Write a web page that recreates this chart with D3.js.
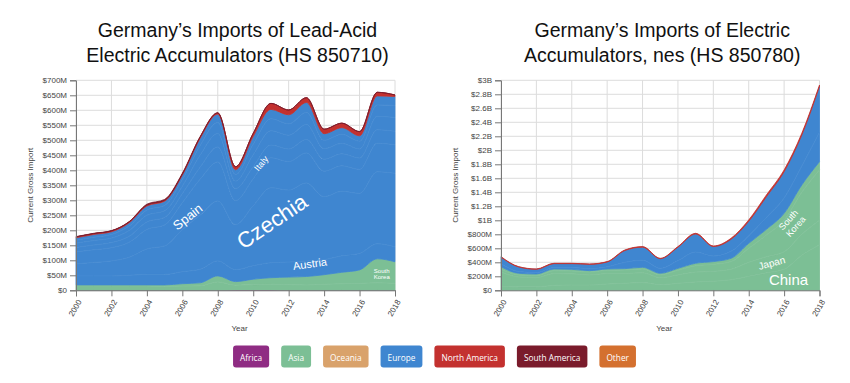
<!DOCTYPE html>
<html><head><meta charset="utf-8">
<script src="https://cdn.jsdelivr.net/npm/d3@7"></script>
<style>body{margin:0;background:#fff}svg{display:block}</style>
</head><body>
<svg id="c" width="850" height="383"></svg>
<script>
// ---------- DATA (values in $M) ----------
const years = [2000,2001,2002,2003,2004,2005,2006,2007,2008,2009,2010,2011,2012,2013,2014,2015,2016,2017,2018];

// Lead-acid accumulators (HS 850710)
const leadAfrica       = [0,0,0,0,0,0,0,0,0,1,1,1,0,0,0,0,0,0,0];
const leadOtherAsia    = [14,14,14,14,14,13,14,15,28,16,18,19,19,18,20,22,23,25,23];
const leadSouthKorea   = [4,4,4,4,4,5,8,10,20,12,18,22,25,28,32,38,45,80,72];
const leadAustria      = [30,30,30,32,35,35,40,45,50,40,45,50,50,52,50,55,55,50,50];
const leadCzechia      = [40,45,50,60,85,95,140,180,200,150,200,250,240,260,210,215,200,240,245];
const leadSpain        = [40,42,44,50,65,70,90,120,130,80,90,100,95,100,85,85,80,95,95];
const leadItaly        = [15,16,17,20,25,25,30,40,50,40,40,42,42,45,40,40,38,45,45];
const leadFrance       = [14,15,15,19,22,22,25,40,45,25,40,48,46,50,35,35,30,45,46];
const leadPoland       = [10,11,12,15,18,18,22,32,36,22,35,40,38,40,28,30,26,38,40];
const leadOtherEurope  = [8,9,9,11,13,14,15,24,28,16,26,31,30,33,22,22,18,30,30];
const leadNorthAmerica = [3,3,3,3,3,3,3,4,4,10,10,20,16,16,15,15,14,12,5];
const leadSouthAmerica = [1,1,1,1,3,3,3,2,1,0,0,0,0,0,0,0,0,0,0];

// Electric accumulators, nes (HS 850780)
const elecChina        = [60,50,50,70,75,75,90,100,110,80,100,120,130,150,200,250,300,500,650];
const elecJapan        = [200,140,130,170,160,145,150,140,140,100,120,140,140,150,200,230,250,300,350];
const elecSouthKorea   = [40,30,30,40,40,40,45,50,55,40,65,90,100,110,200,310,450,600,720];
const elecOtherAsia    = [38,23,23,25,25,21,20,20,24,23,29,36,40,47,71,81,100,105,118];
const elecPoland       = [40,25,20,22,24,27,30,90,100,70,110,160,80,100,110,170,220,270,420];
const elecOtherEurope  = [95,65,47,54,57,63,69,168,187,138,192,258,135,171,204,296,374,443,655];
const elecNorthAmerica = [8,5,5,5,5,5,6,8,8,6,8,10,8,15,20,25,25,25,20];

// Tick values
const yearTicks = [2000,2002,2004,2006,2008,2010,2012,2014,2016,2018];
const leadYTicks = [0,50,100,150,200,250,300,350,400,450,500,550,600,650,700];
const elecYTicks = [0,200,400,600,800,1000,1200,1400,1600,1800,2000,2200,2400,2600,2800,3000];

// Legend
const continents = ["Africa","Asia","Oceania","Europe","North America","South America","Other"];
const continentColors = ["#8f2c83","#7cbf95","#d9a26b","#3f86d0","#c3312f","#7a1b2b","#d4702f"];

// ---------- CHART ----------
const color = d3.scaleOrdinal(continents, continentColors);
const svg = d3.select("#c");
const FONT = "'Liberation Sans', Arial, sans-serif";

function drawChart(cfg) {
  const {series, x, y, yTicks, fmt, title, labels} = cfg;
  const g = svg.append("g");
  const [x0, x1] = x.range();
  const [y0, y1] = y.range();
  const cx = (x0 + x1) / 2 + 2;

  // title
  const t = g.append("text").attr("text-anchor","middle").attr("font-family",FONT)
    .attr("font-size",19.5).attr("fill","#111");
  t.append("tspan").attr("x",cx).attr("y",37).text(title[0]);
  t.append("tspan").attr("x",cx).attr("y",62).text(title[1]);

  // grid
  g.append("g").selectAll("line").data(yTicks).join("line")
    .attr("x1",x0).attr("x2",x1).attr("y1",d=>y(d)).attr("y2",d=>y(d))
    .attr("stroke","#dcdcdc").attr("stroke-width",1);
  g.append("g").selectAll("line").data(yearTicks).join("line")
    .attr("y1",y0).attr("y2",y1).attr("x1",d=>x(d)).attr("x2",d=>x(d))
    .attr("stroke","#dcdcdc").attr("stroke-width",1);

  // stacked areas
  const rows = years.map((yr,i) => {
    const r = {year: yr};
    series.forEach(s => r[s.name] = s.values[i]);
    return r;
  });
  const stack = d3.stack().keys(series.map(s=>s.name))(rows);
  const area = d3.area().x(d=>x(d.data.year)).y0(d=>y(d[0])).y1(d=>y(d[1]))
    .curve(d3.curveMonotoneX);
  const topLine = d3.line().x(d=>x(d.data.year)).y(d=>y(d[1])).curve(d3.curveMonotoneX);
  const layers = g.append("g");
  // solid under-layer of the full continent block to close anti-alias seams
  layers.selectAll("path.a").data(stack).join("path").attr("class","a")
    .attr("d",area)
    .attr("fill",(d,i)=>color(series[i].continent))
    .attr("stroke",(d,i)=>color(series[i].continent))
    .attr("stroke-width",0.8);
  // faint separators between countries of the same continent
  layers.selectAll("path.s").data(stack.filter((d,i)=>i<stack.length-1 &&
      series[i].continent===series[i+1].continent)).join("path").attr("class","s")
    .attr("d",topLine).attr("fill","none")
    .attr("stroke","#ffffff").attr("stroke-opacity",0.06).attr("stroke-width",0.8);

  // labels
  labels.forEach(l => {
    const tx = g.append("text").attr("font-family",FONT).attr("fill","#fff")
      .attr("font-size",l.size).attr("text-anchor","middle")
      .attr("transform",`translate(${x(l.year)},${y(l.value)}) rotate(${l.angle})`);
    l.lines.forEach((line,k) => {
      tx.append("tspan").attr("x",0)
        .attr("dy", k===0 ? `${0.35 - (l.lines.length-1)*0.55}em` : "1.1em").text(line);
    });
  });

  // axes
  const ya = g.append("g").attr("transform",`translate(${x0},0)`)
    .call(d3.axisLeft(y).tickValues(yTicks).tickFormat(fmt).tickSize(6).tickPadding(3));
  const xa = g.append("g").attr("transform",`translate(0,${y0})`)
    .call(d3.axisBottom(x).tickValues(yearTicks).tickFormat(d3.format("d")).tickSize(6));
  [ya, xa].forEach(a => {
    a.select(".domain").attr("stroke","#777");
    a.selectAll(".tick line").attr("stroke","#777");
    a.selectAll("text").attr("font-family",FONT).attr("font-size",8).attr("fill","#444");
  });
  xa.selectAll(".tick text")
    .attr("text-anchor","end").attr("dy","0.35em").attr("y",0)
    .attr("transform","translate(3,10) rotate(-60)");

  // axis titles
  g.append("text").attr("font-family",FONT).attr("font-size",8).attr("fill","#444")
    .attr("text-anchor","middle").attr("x",cx+2).attr("y",331).text("Year");
  g.append("text").attr("font-family",FONT).attr("font-size",8).attr("fill","#444")
    .attr("text-anchor","middle")
    .attr("transform",`translate(${x0-43},${(y0+y1)/2}) rotate(-90)`)
    .text("Current Gross Import");
}

const leadSeries = [
  {name:"Africa", continent:"Africa", values:leadAfrica},
  {name:"Other Asia", continent:"Asia", values:leadOtherAsia},
  {name:"South Korea", continent:"Asia", values:leadSouthKorea},
  {name:"Austria", continent:"Europe", values:leadAustria},
  {name:"Czechia", continent:"Europe", values:leadCzechia},
  {name:"Spain", continent:"Europe", values:leadSpain},
  {name:"Italy", continent:"Europe", values:leadItaly},
  {name:"France", continent:"Europe", values:leadFrance},
  {name:"Poland", continent:"Europe", values:leadPoland},
  {name:"Other Europe", continent:"Europe", values:leadOtherEurope},
  {name:"North America", continent:"North America", values:leadNorthAmerica},
  {name:"South America", continent:"South America", values:leadSouthAmerica}
];
const elecSeries = [
  {name:"China", continent:"Asia", values:elecChina},
  {name:"Japan", continent:"Asia", values:elecJapan},
  {name:"South Korea", continent:"Asia", values:elecSouthKorea},
  {name:"Other Asia", continent:"Asia", values:elecOtherAsia},
  {name:"Poland", continent:"Europe", values:elecPoland},
  {name:"Other Europe", continent:"Europe", values:elecOtherEurope},
  {name:"North America", continent:"North America", values:elecNorthAmerica}
];

drawChart({
  series: leadSeries,
  x: d3.scaleLinear([2000,2018],[76,395]),
  y: d3.scaleLinear([0,700],[290.3,80.3]),
  yTicks: leadYTicks,
  fmt: d => d===0 ? "$0" : `$${d}M`,
  title: ["Germany\u2019s Imports of Lead-Acid","Electric Accumulators (HS 850710)"],
  labels: [
    {lines:["Spain"], year:2006.3, value:245, size:13, angle:-38},
    {lines:["Czechia"], year:2011.05, value:230, size:22, angle:-34},
    {lines:["Italy"], year:2010.45, value:423, size:9, angle:-50},
    {lines:["Austria"], year:2013.2, value:88, size:11, angle:-8},
    {lines:["South","Korea"], year:2017.25, value:54, size:6, angle:0}
  ]
});
drawChart({
  series: elecSeries,
  x: d3.scaleLinear([2000,2018],[501,819.5]),
  y: d3.scaleLinear([0,3000],[290.3,80.3]),
  yTicks: elecYTicks,
  fmt: d => d===0 ? "$0" : d>=1000 ? `$${d/1000}B` : `$${d}M`,
  title: ["Germany\u2019s Imports of Electric","Accumulators, nes (HS 850780)"],
  labels: [
    {lines:["China"], year:2016.25, value:150, size:15, angle:0},
    {lines:["Japan"], year:2015.3, value:390, size:10, angle:-15},
    {lines:["South","Korea"], year:2016.45, value:960, size:9, angle:-48}
  ]
});

// legend
const lg = svg.append("g").attr("font-family","'Open Sans', sans-serif").attr("font-size",8.3);
let lx = 0;
const items = continents.map(c => {
  const it = lg.append("g");
  const txt = it.append("text").attr("fill","#fff").attr("text-anchor","middle")
    .attr("dominant-baseline","central").text(c);
  const w = txt.node().getComputedTextLength() + 14;
  it.insert("rect","text").attr("width",w).attr("height",22).attr("rx",3)
    .attr("fill",color(c));
  txt.attr("x",w/2).attr("y",11.5);
  const o = {g:it, x:lx, w};
  lx += w + 12;
  return o;
});
const total = lx - 12;
const start = 434.5 - total/2;
items.forEach(o => o.g.attr("transform",`translate(${start+o.x},345.5)`));
</script>
</body></html>
